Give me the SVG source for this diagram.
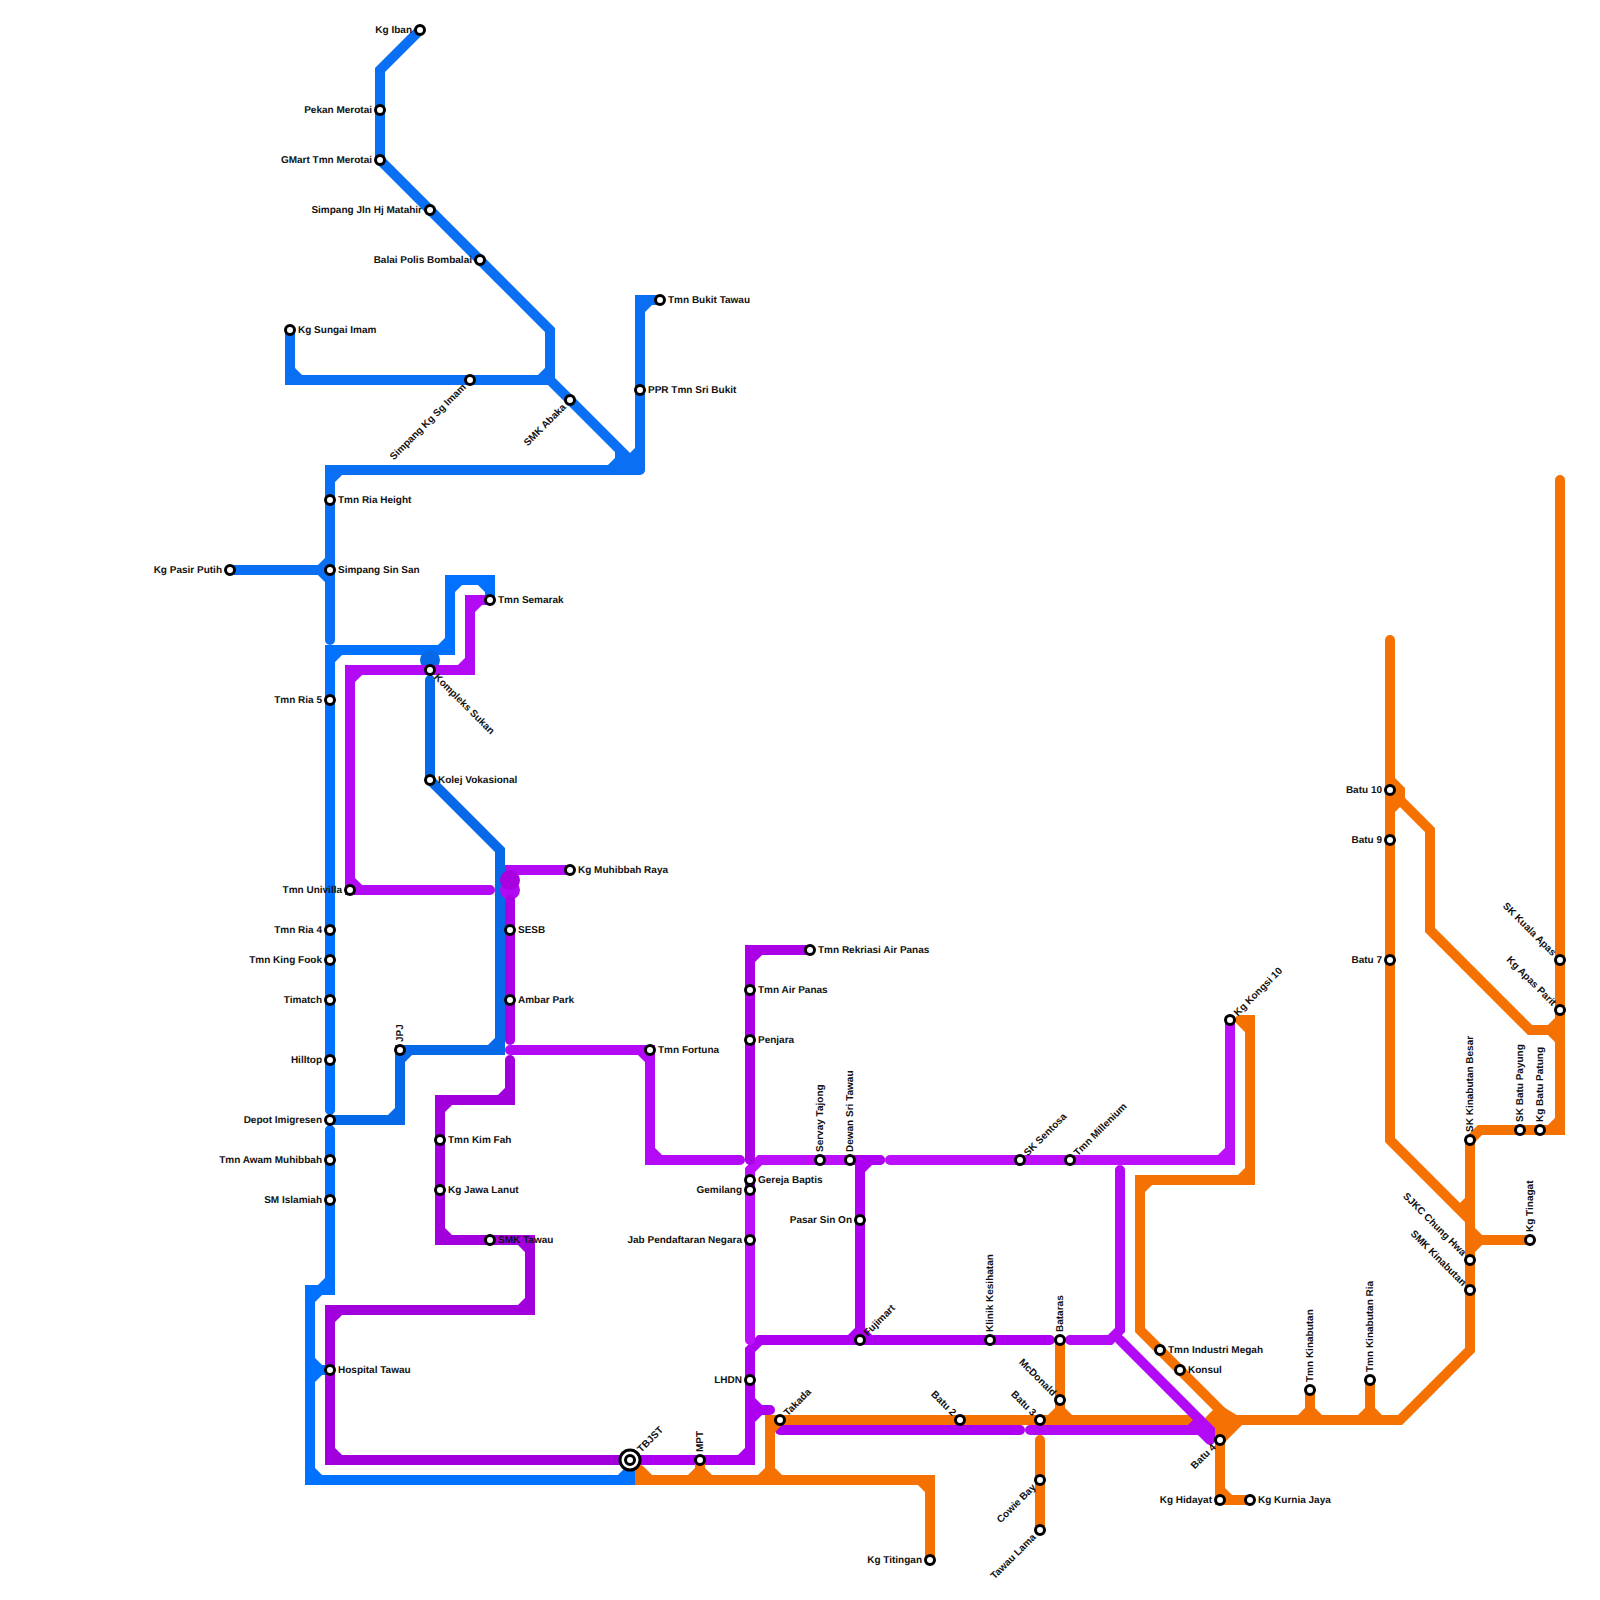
<svg xmlns="http://www.w3.org/2000/svg" width="1600" height="1600" viewBox="0 0 1600 1600">
<style>
.ln{fill:none;stroke-width:10;stroke-linecap:round;stroke-linejoin:miter;stroke-miterlimit:4}
.b1{stroke:#0a6ff2}.b2{stroke:#0072ff}.b3{stroke:#0869e8}
.p1{stroke:#b30af5}.p2{stroke:#bc10fb}.p3{stroke:#ad00f0}.p4{stroke:#ab00e6}.p5{stroke:#a100dc}
.o{stroke:#f57102}
.s circle{fill:#fff;stroke:#000;stroke-width:3}
.s text{font-family:"Liberation Sans",Arial,sans-serif;font-weight:bold;font-size:10px;fill:#111;text-rendering:geometricPrecision}
.e{text-anchor:end}
</style>
<rect width="1600" height="1600" fill="#fff"/>
<g id="connectors">
<path class="ln b1" d="M420,30L380,70V160L550,330V380H290V330M290,370L300,380M540,380L550,370M550,380L640,470M620,450V470M610,470L620,460M620,470L640,450M640,470V300H660M640,310L650,300M640,470H330V640M330,480L340,470M230,570H330M320,570L330,560M320,570L330,580"/>
<path class="ln b2" d="M490,600V580H450V650H330V1110M450,590L460,580M480,580L490,590M440,650L450,640M330,660L340,650"/>
<path class="ln b2" d="M330,1130V1290H310V1480H630V1460M320,1290L330,1280M310,1300L320,1290M310,1470L320,1480M620,1480L630,1470M310,1360L320,1370L310,1380M310,1370H330"/>
<path class="ln b3" d="M430,680V780L500,850V1050H400V1120H330M490,1050L500,1040M400,1060L410,1050M390,1120L400,1110"/>
<circle cx="430" cy="660" r="10" fill="#0869e8"/>
<path class="ln p1" d="M490,600H470V670H350V890H490M470,610L480,600M460,670L470,660M350,680L360,670M350,880L360,890"/>
<path class="ln p1" d="M570,870H510V890"/>
<circle cx="510" cy="890" r="10" fill="#b30af5"/>
<circle cx="510" cy="880" r="10" fill="#a800e0"/>
<path class="ln p4" d="M510,900V1040"/>
<path class="ln p1" d="M510,1050H650V1160H740M640,1050L650,1060M650,1150L660,1160"/>
<path class="ln p5" d="M510,1060V1100H440V1240H530V1310H330V1460H630M500,1100L510,1090M440,1110L450,1100M440,1230L450,1240M520,1240L530,1250M520,1310L530,1300M330,1320L340,1310M330,1450L340,1460"/>
<path class="ln p3" d="M630,1460H750V1350L760,1340H1050M740,1460L750,1450M750,1400L760,1410L750,1420M760,1410H770"/>
<path class="ln p2" d="M750,1340V1170L760,1160H880"/>
<path class="ln p4" d="M750,1160V950H810M750,960L760,950"/>
<path class="ln p3" d="M880,1160H850M860,1170L870,1160M860,1160V1340M850,1340L860,1330L870,1340"/>
<path class="ln p2" d="M890,1160H1230V1020M1220,1160L1230,1150"/>
<path class="ln p3" d="M780,1430H1020"/>
<path class="ln o" d="M640,1470V1480H930V1560M640,1470L650,1480M690,1480L700,1470L710,1480M700,1470V1460M920,1480L930,1490M760,1480L770,1470L780,1480M770,1480V1420H1200M770,1430L780,1420M1050,1420L1060,1410L1070,1420M1060,1340V1410M1040,1440V1530M1240,1020H1250V1180H1140V1330L1230,1420M1240,1020L1250,1030M1240,1180L1250,1170M1140,1190L1150,1180M1210,1420L1220,1410M1230,1420H1400L1470,1350V1140L1480,1130H1560V480M1240,1420L1220,1440V1500H1250M1220,1490L1230,1500M1300,1420L1310,1410L1320,1420M1310,1410V1390M1360,1420L1370,1410L1380,1420M1370,1410V1380M1550,1130L1560,1120M1390,640V1140L1470,1220M1460,1210L1470,1200M1470,1240H1530M1470,1230L1480,1240M1470,1250L1480,1240M1390,780L1400,790V800L1430,830V930L1530,1030H1560M1390,810L1400,800M1550,1030L1560,1020M1550,1030L1560,1040"/>
<polygon points="1205,1420 1220,1405 1245,1420 1222,1443 1210,1430" fill="#f57102"/>
<path class="ln p1" d="M1070,1340H1110L1120,1330V1170M1120,1340L1210,1430V1440M1030,1430H1210M1190,1430L1200,1420M1200,1430L1210,1440"/>
</g>
<g id="stations" class="s">
<g id="s1"><circle cx="420" cy="30" r="4.5"/><text class="e" x="412" y="33">Kg Iban</text></g>
<g id="s2"><circle cx="380" cy="110" r="4.5"/><text class="e" x="372" y="113">Pekan Merotai</text></g>
<g id="s3"><circle cx="380" cy="160" r="4.5"/><text class="e" x="372" y="163">GMart Tmn Merotai</text></g>
<g id="s4"><circle cx="430" cy="210" r="4.5"/><text class="e" x="422" y="213">Simpang Jln Hj Matahir</text></g>
<g id="s5"><circle cx="480" cy="260" r="4.5"/><text class="e" x="472" y="263">Balai Polis Bombalai</text></g>
<g id="s6"><circle cx="290" cy="330" r="4.5"/><text x="298" y="333">Kg Sungai Imam</text></g>
<g id="s7"><circle cx="470" cy="380" r="4.5"/><text class="e" transform="translate(470,380) rotate(-45)" x="-8" y="3">Simpang Kg Sg Imam</text></g>
<g id="s8"><circle cx="570" cy="400" r="4.5"/><text class="e" transform="translate(570,400) rotate(-45)" x="-8" y="3">SMK Abaka</text></g>
<g id="s9"><circle cx="660" cy="300" r="4.5"/><text x="668" y="303">Tmn Bukit Tawau</text></g>
<g id="s10"><circle cx="640" cy="390" r="4.5"/><text x="648" y="393">PPR Tmn Sri Bukit</text></g>
<g id="s11"><circle cx="330" cy="500" r="4.5"/><text x="338" y="503">Tmn Ria Height</text></g>
<g id="s12"><circle cx="330" cy="570" r="4.5"/><text x="338" y="573">Simpang Sin San</text></g>
<g id="s13"><circle cx="230" cy="570" r="4.5"/><text class="e" x="222" y="573">Kg Pasir Putih</text></g>
<g id="s14"><circle cx="490" cy="600" r="4.5"/><text x="498" y="603">Tmn Semarak</text></g>
<g id="s15"><circle cx="430" cy="670" r="4.5"/><text transform="translate(430,670) rotate(45)" x="8" y="3">Kompleks Sukan</text></g>
<g id="s16"><circle cx="330" cy="700" r="4.5"/><text class="e" x="322" y="703">Tmn Ria 5</text></g>
<g id="s17"><circle cx="430" cy="780" r="4.5"/><text x="438" y="783">Kolej Vokasional</text></g>
<g id="s18"><circle cx="570" cy="870" r="4.5"/><text x="578" y="873">Kg Muhibbah Raya</text></g>
<g id="s19"><circle cx="350" cy="890" r="4.5"/><text class="e" x="342" y="893">Tmn Univilla</text></g>
<g id="s20"><circle cx="330" cy="930" r="4.5"/><text class="e" x="322" y="933">Tmn Ria 4</text></g>
<g id="s21"><circle cx="510" cy="930" r="4.5"/><text x="518" y="933">SESB</text></g>
<g id="s22"><circle cx="330" cy="960" r="4.5"/><text class="e" x="322" y="963">Tmn King Fook</text></g>
<g id="s23"><circle cx="330" cy="1000" r="4.5"/><text class="e" x="322" y="1003">Timatch</text></g>
<g id="s24"><circle cx="510" cy="1000" r="4.5"/><text x="518" y="1003">Ambar Park</text></g>
<g id="s25"><circle cx="400" cy="1050" r="4.5"/><text transform="translate(400,1050) rotate(-90)" x="8" y="3">JPJ</text></g>
<g id="s26"><circle cx="650" cy="1050" r="4.5"/><text x="658" y="1053">Tmn Fortuna</text></g>
<g id="s27"><circle cx="330" cy="1060" r="4.5"/><text class="e" x="322" y="1063">Hilltop</text></g>
<g id="s28"><circle cx="330" cy="1120" r="4.5"/><text class="e" x="322" y="1123">Depot Imigresen</text></g>
<g id="s29"><circle cx="440" cy="1140" r="4.5"/><text x="448" y="1143">Tmn Kim Fah</text></g>
<g id="s30"><circle cx="330" cy="1160" r="4.5"/><text class="e" x="322" y="1163">Tmn Awam Muhibbah</text></g>
<g id="s31"><circle cx="330" cy="1200" r="4.5"/><text class="e" x="322" y="1203">SM Islamiah</text></g>
<g id="s32"><circle cx="440" cy="1190" r="4.5"/><text x="448" y="1193">Kg Jawa Lanut</text></g>
<g id="s33"><circle cx="490" cy="1240" r="4.5"/><text x="498" y="1243">SMK Tawau</text></g>
<g id="s34"><circle cx="330" cy="1370" r="4.5"/><text x="338" y="1373">Hospital Tawau</text></g>
<g id="s35"><circle cx="630" cy="1460" r="10"/><circle cx="630" cy="1460" r="4.5"/><text transform="translate(630,1460) rotate(-45)" x="13" y="3">TBJST</text></g>
<g id="s36"><circle cx="700" cy="1460" r="4.5"/><text transform="translate(700,1460) rotate(-90)" x="8" y="3">MPT</text></g>
<g id="s37"><circle cx="810" cy="950" r="4.5"/><text x="818" y="953">Tmn Rekriasi Air Panas</text></g>
<g id="s38"><circle cx="750" cy="990" r="4.5"/><text x="758" y="993">Tmn Air Panas</text></g>
<g id="s39"><circle cx="750" cy="1040" r="4.5"/><text x="758" y="1043">Penjara</text></g>
<g id="s40"><circle cx="820" cy="1160" r="4.5"/><text transform="translate(820,1160) rotate(-90)" x="8" y="3">Servay Tajong</text></g>
<g id="s41"><circle cx="850" cy="1160" r="4.5"/><text transform="translate(850,1160) rotate(-90)" x="8" y="3">Dewan Sri Tawau</text></g>
<g id="s42"><circle cx="750" cy="1180" r="4.5"/><text x="758" y="1183">Gereja Baptis</text></g>
<g id="s43"><circle cx="750" cy="1190" r="4.5"/><text class="e" x="742" y="1193">Gemilang</text></g>
<g id="s44"><circle cx="860" cy="1220" r="4.5"/><text class="e" x="852" y="1223">Pasar Sin On</text></g>
<g id="s45"><circle cx="750" cy="1240" r="4.5"/><text class="e" x="742" y="1243">Jab Pendaftaran Negara</text></g>
<g id="s46"><circle cx="860" cy="1340" r="4.5"/><text transform="translate(860,1340) rotate(-45)" x="8" y="3">Fujimart</text></g>
<g id="s47"><circle cx="750" cy="1380" r="4.5"/><text class="e" x="742" y="1383">LHDN</text></g>
<g id="s48"><circle cx="780" cy="1420" r="4.5"/><text transform="translate(780,1420) rotate(-45)" x="8" y="3">Takada</text></g>
<g id="s49"><circle cx="990" cy="1340" r="4.5"/><text transform="translate(990,1340) rotate(-90)" x="8" y="3">Klinik Kesihatan</text></g>
<g id="s50"><circle cx="1060" cy="1340" r="4.5"/><text transform="translate(1060,1340) rotate(-90)" x="8" y="3">Bataras</text></g>
<g id="s51"><circle cx="1060" cy="1400" r="4.5"/><text class="e" transform="translate(1060,1400) rotate(45)" x="-8" y="3">McDonald</text></g>
<g id="s52"><circle cx="960" cy="1420" r="4.5"/><text class="e" transform="translate(960,1420) rotate(45)" x="-8" y="3">Batu 2</text></g>
<g id="s53"><circle cx="1040" cy="1420" r="4.5"/><text class="e" transform="translate(1040,1420) rotate(45)" x="-8" y="3">Batu 3</text></g>
<g id="s54"><circle cx="1020" cy="1160" r="4.5"/><text transform="translate(1020,1160) rotate(-45)" x="8" y="3">SK Sentosa</text></g>
<g id="s55"><circle cx="1070" cy="1160" r="4.5"/><text transform="translate(1070,1160) rotate(-45)" x="8" y="3">Tmn Millenium</text></g>
<g id="s56"><circle cx="1230" cy="1020" r="4.5"/><text transform="translate(1230,1020) rotate(-45)" x="8" y="3">Kg Kongsi 10</text></g>
<g id="s57"><circle cx="1160" cy="1350" r="4.5"/><text x="1168" y="1353">Tmn Industri Megah</text></g>
<g id="s58"><circle cx="1180" cy="1370" r="4.5"/><text x="1188" y="1373">Konsul</text></g>
<g id="s59"><circle cx="1220" cy="1440" r="4.5"/><text class="e" transform="translate(1220,1440) rotate(-45)" x="-8" y="3">Batu 4</text></g>
<g id="s60"><circle cx="1220" cy="1500" r="4.5"/><text class="e" x="1212" y="1503">Kg Hidayat</text></g>
<g id="s61"><circle cx="1250" cy="1500" r="4.5"/><text x="1258" y="1503">Kg Kurnia Jaya</text></g>
<g id="s62"><circle cx="1040" cy="1480" r="4.5"/><text class="e" transform="translate(1040,1480) rotate(-45)" x="-8" y="3">Cowie Bay</text></g>
<g id="s63"><circle cx="1040" cy="1530" r="4.5"/><text class="e" transform="translate(1040,1530) rotate(-45)" x="-8" y="3">Tawau Lama</text></g>
<g id="s64"><circle cx="930" cy="1560" r="4.5"/><text class="e" x="922" y="1563">Kg Titingan</text></g>
<g id="s65"><circle cx="1310" cy="1390" r="4.5"/><text transform="translate(1310,1390) rotate(-90)" x="8" y="3">Tmn Kinabutan</text></g>
<g id="s66"><circle cx="1370" cy="1380" r="4.5"/><text transform="translate(1370,1380) rotate(-90)" x="8" y="3">Tmn Kinabutan Ria</text></g>
<g id="s67"><circle cx="1470" cy="1290" r="4.5"/><text class="e" transform="translate(1470,1290) rotate(45)" x="-8" y="3">SMK Kinabutan</text></g>
<g id="s68"><circle cx="1470" cy="1260" r="4.5"/><text class="e" transform="translate(1470,1260) rotate(45)" x="-8" y="3">SJKC Chung Hwa</text></g>
<g id="s69"><circle cx="1470" cy="1140" r="4.5"/><text transform="translate(1470,1140) rotate(-90)" x="8" y="3">SK Kinabutan Besar</text></g>
<g id="s70"><circle cx="1520" cy="1130" r="4.5"/><text transform="translate(1520,1130) rotate(-90)" x="8" y="3">SK Batu Payung</text></g>
<g id="s71"><circle cx="1540" cy="1130" r="4.5"/><text transform="translate(1540,1130) rotate(-90)" x="8" y="3">Kg Batu Patung</text></g>
<g id="s72"><circle cx="1530" cy="1240" r="4.5"/><text transform="translate(1530,1240) rotate(-90)" x="8" y="3">Kg Tinagat</text></g>
<g id="s73"><circle cx="1560" cy="1010" r="4.5"/><text class="e" transform="translate(1560,1010) rotate(45)" x="-8" y="3">Kg Apas Parit</text></g>
<g id="s74"><circle cx="1560" cy="960" r="4.5"/><text class="e" transform="translate(1560,960) rotate(45)" x="-8" y="3">SK Kuala Apas</text></g>
<g id="s75"><circle cx="1390" cy="790" r="4.5"/><text class="e" x="1382" y="793">Batu 10</text></g>
<g id="s76"><circle cx="1390" cy="840" r="4.5"/><text class="e" x="1382" y="843">Batu 9</text></g>
<g id="s77"><circle cx="1390" cy="960" r="4.5"/><text class="e" x="1382" y="963">Batu 7</text></g>
</g>
</svg>
